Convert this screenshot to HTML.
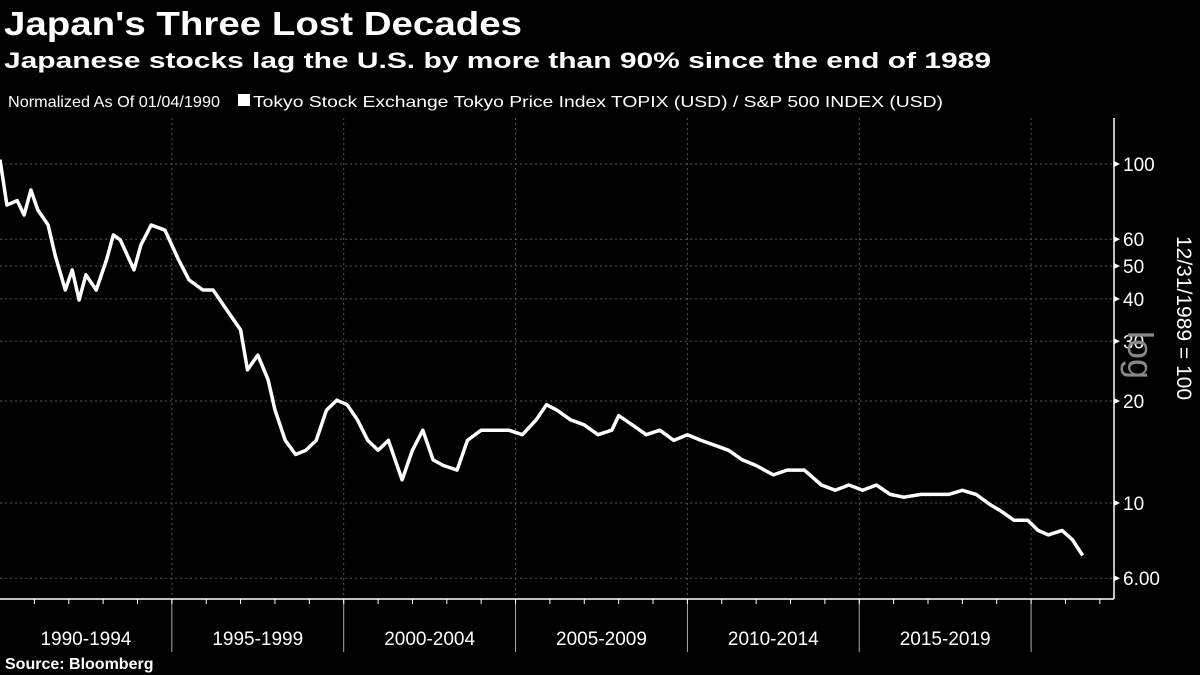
<!DOCTYPE html>
<html><head><meta charset="utf-8"><style>
html,body{margin:0;padding:0;background:#000;}
svg{display:block;}
text{font-family:"Liberation Sans",sans-serif;fill:#fff;}
</style></head><body>
<svg id="chart" width="1200" height="675" viewBox="0 0 1200 675" xmlns="http://www.w3.org/2000/svg">
<rect width="1200" height="675" fill="#000"/>
<text x="4" y="35" font-size="33" font-weight="bold" textLength="518" lengthAdjust="spacingAndGlyphs">Japan's Three Lost Decades</text>
<text x="4" y="68" font-size="22" font-weight="bold" textLength="987" lengthAdjust="spacingAndGlyphs">Japanese stocks lag the U.S. by more than 90% since the end of 1989</text>
<text x="8" y="107" font-size="16" textLength="212" lengthAdjust="spacingAndGlyphs">Normalized As Of 01/04/1990</text>
<rect x="238" y="94" width="12" height="12" fill="#fff"/>
<text x="253" y="107" font-size="16" textLength="690" lengthAdjust="spacingAndGlyphs">Tokyo Stock Exchange Tokyo Price Index TOPIX (USD) / S&amp;P 500 INDEX (USD)</text>
<g id="grid"></g>
<g id="axes"></g>
<g id="series"></g>
<text transform="translate(1128,355) rotate(90)" text-anchor="middle" font-size="36" style="fill:#888">log</text>
<text transform="translate(1177,318) rotate(90)" text-anchor="middle" font-size="21">12/31/1989 = 100</text>
<text x="5" y="669" font-size="16" font-weight="bold">Source: Bloomberg</text>
</svg>
<script>
const years = [1990.0,1990.2,1990.5,1990.7,1990.9,1991.1,1991.4,1991.6,1991.9,1992.1,1992.3,1992.5,1992.8,1993.1,1993.3,1993.5,1993.9,1994.1,1994.4,1994.8,1995.0,1995.2,1995.5,1995.9,1996.2,1996.6,1997.0,1997.2,1997.5,1997.8,1998.0,1998.3,1998.6,1998.9,1999.2,1999.5,1999.8,2000.1,2000.4,2000.7,2001.0,2001.3,2001.7,2002.0,2002.3,2002.6,2002.9,2003.3,2003.6,2004.0,2004.4,2004.8,2005.2,2005.6,2005.9,2006.2,2006.6,2007.0,2007.4,2007.8,2008.0,2008.4,2008.8,2009.2,2009.6,2010.0,2010.4,2010.8,2011.2,2011.6,2012.0,2012.5,2012.9,2013.4,2013.9,2014.3,2014.7,2015.1,2015.5,2015.9,2016.3,2016.8,2017.2,2017.6,2018.0,2018.4,2018.8,2019.1,2019.5,2019.9,2020.2,2020.5,2020.9,2021.2,2021.5];
const values = [103,75.7,78,70.7,83.8,73.2,66.1,54,42.5,48.7,39.7,47.1,42.5,52.1,61.8,59.7,48.7,57.7,66.1,63.8,57.7,52.1,45.5,42.5,42.5,37.1,32.4,24.7,27.3,23.1,18.8,15.3,13.9,14.3,15.3,18.8,20.1,19.5,17.6,15.3,14.3,15.3,11.7,14.3,16.4,13.4,12.9,12.5,15.3,16.4,16.4,16.4,15.9,17.6,19.5,18.8,17.6,17.0,15.9,16.4,18.1,17.0,15.9,16.4,15.3,15.9,15.3,14.8,14.3,13.4,12.9,12.1,12.5,12.5,11.3,10.9,11.3,10.9,11.3,10.6,10.4,10.6,10.6,10.6,10.9,10.6,9.9,9.5,8.9,8.9,8.3,8.05,8.3,7.8,7.0];
const yTicks = [100,60,50,40,30,20,10,6];
const yTickLabels = ["100","60","50","40","30","20","10","6.00"];
const periodLabels = ["1990-1994","1995-1999","2000-2004","2005-2009","2010-2014","2015-2019"];

const NS="http://www.w3.org/2000/svg";
const X0=0, PXY=34.37, Y10=503, PXDEC=339, AXB=599, AXR=1114;
function xScale(y){return X0+(y-1990)*PXY;}
function yScale(v){return Y10-(Math.log10(v)-1)*PXDEC;}
function mk(tag,attrs,parent){const e=document.createElementNS(NS,tag);for(const k in attrs)e.setAttribute(k,attrs[k]);parent.appendChild(e);return e;}
const grid=document.getElementById('grid'), axes=document.getElementById('axes'), series=document.getElementById('series');

yTicks.forEach((t,i)=>{
  const y=yScale(t);
  const g=mk('line',{x1:0,x2:AXR,y1:y,y2:y,stroke:'#555','stroke-width':1,'stroke-dasharray':'2,3'},grid);
  
  
  const tk=mk('path',{d:`M${AXR} ${y-3}L${AXR+6} ${y}L${AXR} ${y+3}Z`,fill:'#fff'},axes);
  
  
  const tx=mk('text',{x:AXR+9,y:y+7,'font-size':19},axes);
  
  
  tx.textContent=yTickLabels[i];
});
for(let k=1;k<=6;k++){
  const x=xScale(1990+5*k);
  const g=mk('line',{x1:x,x2:x,y1:118,y2:AXB,stroke:'#555','stroke-width':1,'stroke-dasharray':'2,3'},grid);
  
  
  const s=mk('line',{x1:x,x2:x,y1:AXB,y2:652,stroke:'#aaa','stroke-width':1},axes);
  
  
}
for(let yr=1991;yr<=2022;yr++){
  const x=xScale(yr);
  const t=mk('line',{x1:x,x2:x,y1:AXB,y2:AXB+5,stroke:'#fff','stroke-width':1},axes);
  
  
}
periodLabels.forEach((l,i)=>{
  const x=(xScale(1990+5*i)+xScale(1995+5*i))/2;
  const t=mk('text',{x:x,y:645,'font-size':19,'text-anchor':'middle'},axes);
  
  
  t.textContent=l;
});
const xa=mk('line',{x1:0,x2:AXR,y1:AXB,y2:AXB,stroke:'#fff','stroke-width':1.5},axes);


const ya=mk('line',{x1:AXR,x2:AXR,y1:118,y2:AXB,stroke:'#fff','stroke-width':1.5},axes);



const pts=years.map((y,i)=>xScale(y).toFixed(1)+','+yScale(values[i]).toFixed(1)).join(' ');
const line=mk('polyline',{points:pts,fill:'none',stroke:'#fff','stroke-width':3.5,'stroke-linejoin':'round'},series);


</script>
</body></html>
